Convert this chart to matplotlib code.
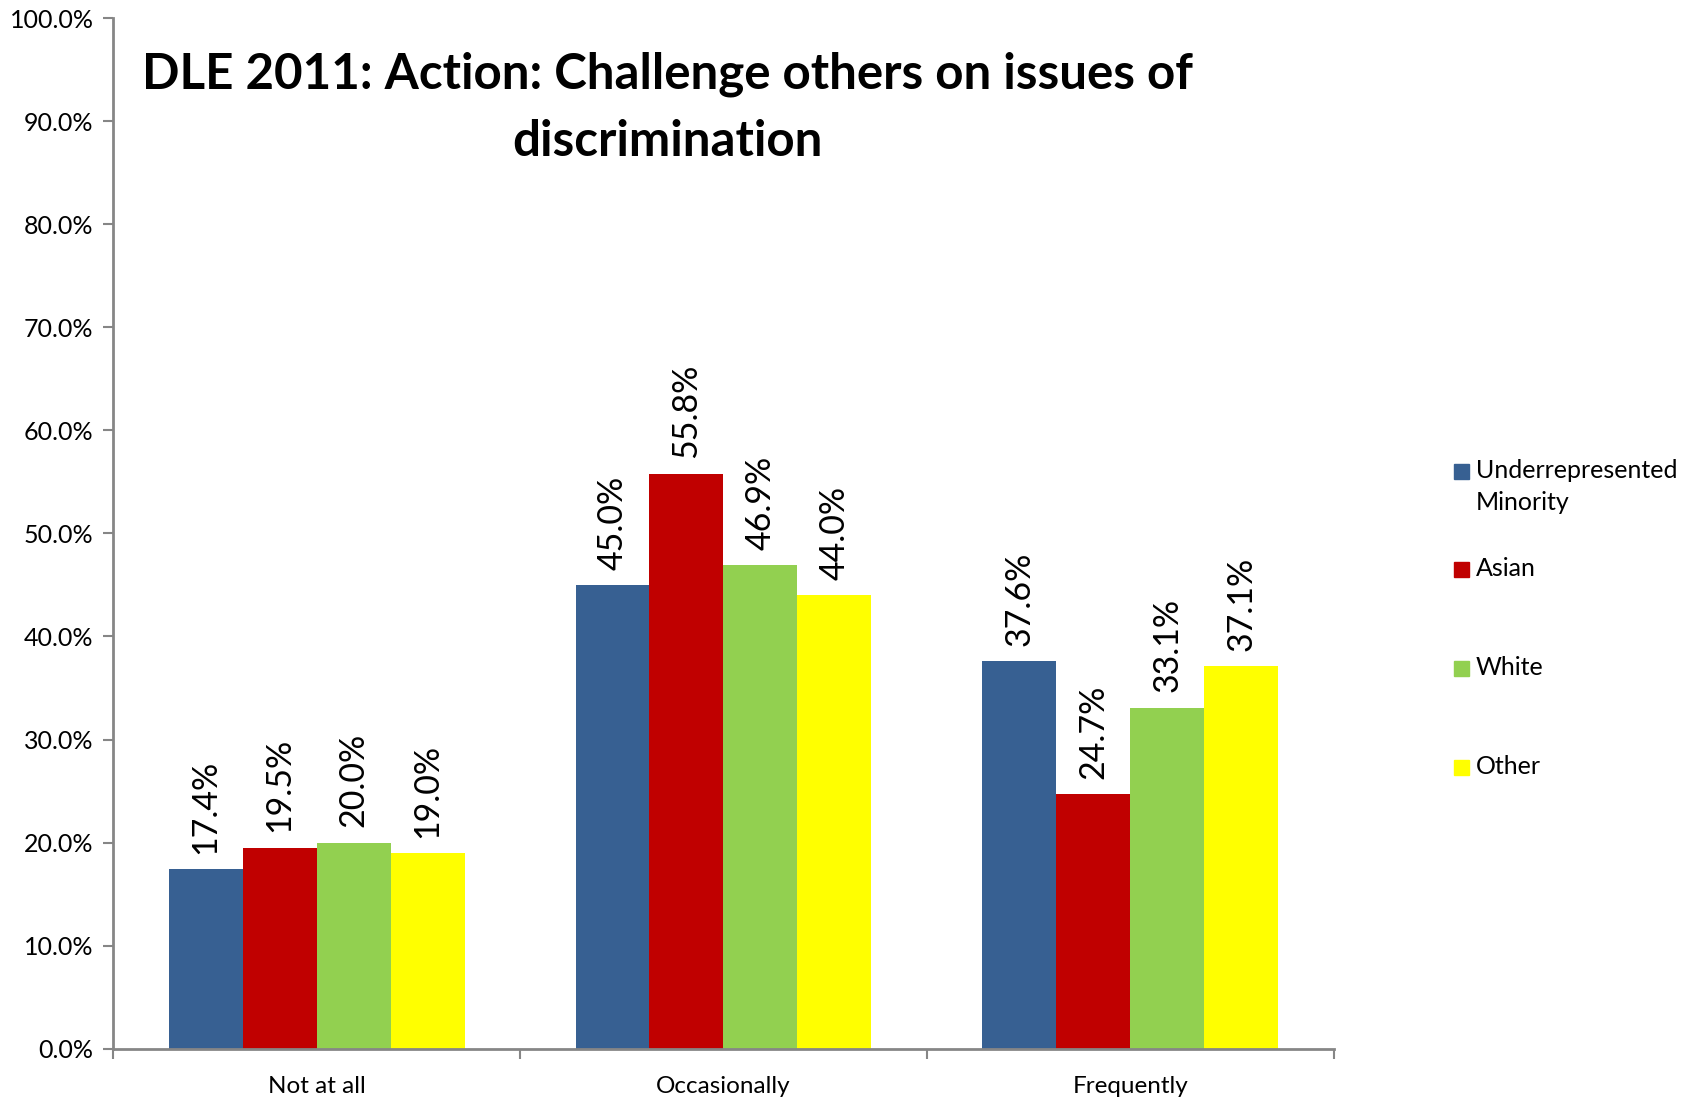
import numpy as np
import matplotlib
matplotlib.use("Agg")
import matplotlib.pyplot as plt
from matplotlib.patches import Rectangle
from matplotlib.ticker import FixedLocator, PercentFormatter

plt.rcParams['font.family'] = ['Lato', 'DejaVu Sans']

# data
categories = ['Not at all', 'Occasionally', 'Frequently']
series_names = ['Underrepresented\nMinority', 'Asian', 'White', 'Other']
series_colors = ['#376092', '#C00000', '#92D050', '#FFFF00']
urm = [17.4, 45.0, 37.6]
asian = [19.5, 55.8, 24.7]
white = [20.0, 46.9, 33.1]
other = [19.0, 44.0, 37.1]
values = [urm, asian, white, other]

fig = plt.figure(figsize=(16.9, 10.99), dpi=100)
ax = fig.add_axes([0.0669, 0.0458, 0.7224, 0.9376])

n = len(values)
bw = 1 / (n + 1.5)  # excel gap width 150%
centers = np.arange(len(categories)) + 0.5
for i, (vals, col) in enumerate(zip(values, series_colors)):
    x = centers - n * bw / 2 + (i + 0.5) * bw
    bars = ax.bar(x, vals, width=bw, color=col, edgecolor='none', zorder=2)
    for b, v in zip(bars, vals):
        ax.annotate(f'{v:.1f}%', (b.get_x() + bw / 2, v), xytext=(0, 11),
                    textcoords='offset points', rotation=90,
                    ha='center', va='bottom', fontsize=24.5)

ax.set_xlim(0, len(categories))
ax.set_ylim(0, 100)
ax.yaxis.set_major_locator(FixedLocator(np.arange(0, 101, 10)))
ax.yaxis.set_major_formatter(PercentFormatter(decimals=1))
ax.xaxis.set_major_locator(FixedLocator(np.arange(len(categories) + 1)))
ax.xaxis.set_minor_locator(FixedLocator(centers))
ax.set_xticklabels([])
ax.set_xticklabels(categories, minor=True)

for s in ['top', 'right']:
    ax.spines[s].set_visible(False)
for s in ['left', 'bottom']:
    ax.spines[s].set_color('#868686')
    ax.spines[s].set_linewidth(2)
ax.tick_params(axis='y', length=7, width=1.5, color='#868686', labelsize=18, pad=7)
ax.tick_params(axis='x', which='major', length=7, width=1.5, color='#868686')
ax.tick_params(axis='x', which='minor', length=0, labelsize=17.5, pad=20)

fig.text(0.3947, 0.953, 'DLE 2011: Action: Challenge others on issues of\ndiscrimination',
         ha='center', va='top', fontsize=35.5, fontweight='bold', linespacing=1.6)

# legend
leg_y = [0.5714, 0.4823, 0.3922, 0.3021]
for name, col, y in zip(series_names, series_colors, leg_y):
    fig.patches.append(Rectangle((0.8604, y - 0.0075), 0.0089, 0.0137,
                                 transform=fig.transFigure, color=col))
    fig.text(0.8734, y + 0.0105, name, ha='left', va='top', fontsize=18,
             linespacing=1.45)

fig.savefig('out.png', dpi=100)
